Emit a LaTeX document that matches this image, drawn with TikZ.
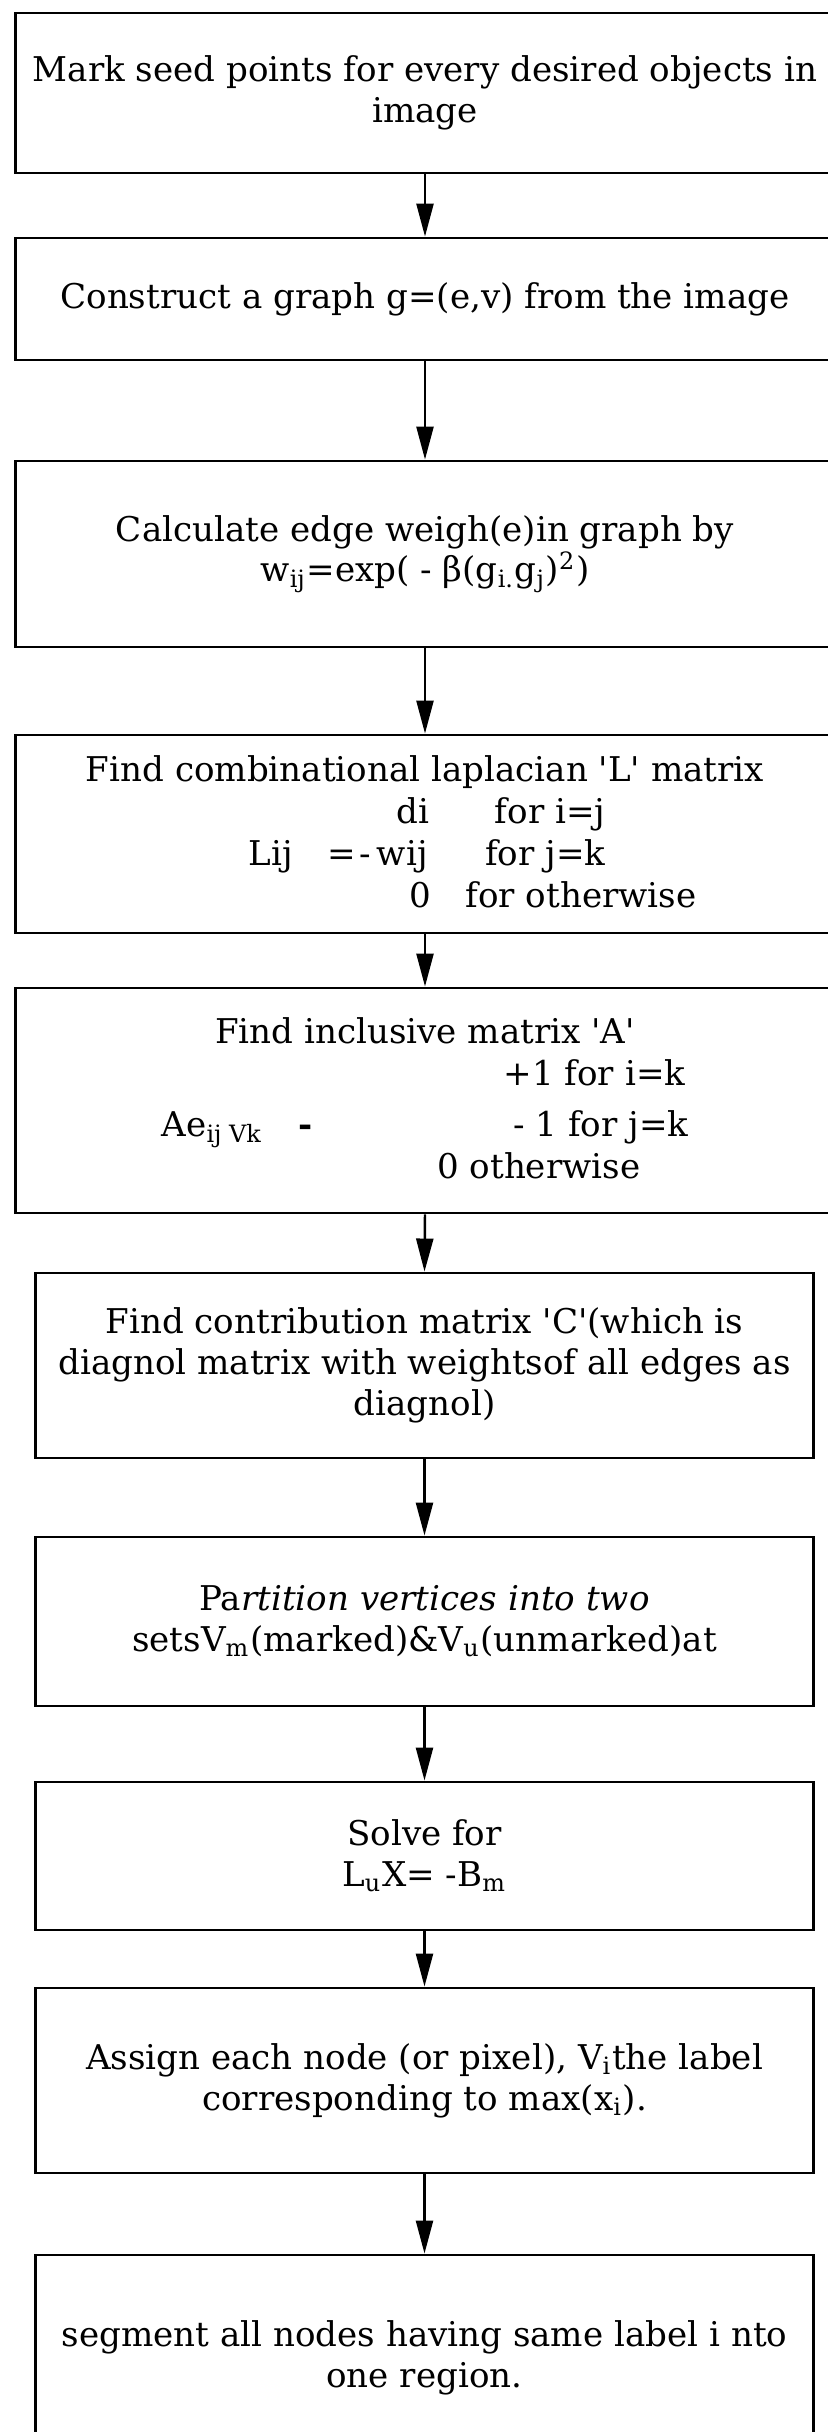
\documentclass[tikz,border=0pt]{standalone}
\usepackage{fontspec}
\setmainfont{DejaVu Serif}
\usetikzlibrary{arrows.meta}

\tikzset{
	stepbox/.style={draw, line width=0.8pt, align=center, inner sep=0pt},
	widebox/.style={stepbox, minimum width=8.18cm},
	narrowbox/.style={stepbox, minimum width=7.77cm},
	flow/.style={line width=0.7pt, -{Triangle[width=0.17cm,length=0.33cm]}},
	piece/.style={anchor=base west, inner sep=0pt},
	endpiece/.style={anchor=base east, inner sep=0pt},
	midpiece/.style={anchor=base, inner sep=0pt}
}

\begin{document}
\begin{tikzpicture}[x=0.01cm, y=-0.01cm, font=\fontsize{9.7}{11.6}\selectfont]
	\clip (0,0) rectangle (828,2432);
	
	\node[widebox, minimum height=1.60cm] (b1) at (425,93) {Mark seed points for every desired objects in\\image};
	\node[widebox, minimum height=1.22cm] (b2) at (425,299) {Construct a graph g=(e,v) from the image};
	\node[widebox, minimum height=1.86cm] (b3) at (425,554) {Calculate edge weigh(e)in graph by\\w\textsubscript{ij}=exp( - β(g\textsubscript{i.}g\textsubscript{j})\textsuperscript{2})};
	\node[widebox, minimum height=1.98cm] (b4) at (425,834) {};
	\node[widebox, minimum height=2.25cm] (b5) at (425,1100.5) {};
	\node[narrowbox, minimum height=1.85cm] (b6) at (424.5,1365.5) {Find contribution matrix \textquotesingle C\textquotesingle(which is\\diagnol matrix with weightsof all edges as\\diagnol)};
	\node[narrowbox, minimum height=1.69cm] (b7) at (424.5,1621.5) {Pa\textit{rtition vertices into two}\\setsV\textsubscript{m}(marked)\&V\textsubscript{u}(unmarked)at};
	\node[narrowbox, minimum height=1.48cm] (b8) at (424.5,1856) {Solve for\\L\textsubscript{u}X= -B\textsubscript{m}};
	\node[narrowbox, minimum height=1.85cm] (b9) at (424.5,2080.5) {Assign each node (or pixel), V\textsubscript{i}the label\\corresponding to max(x\textsubscript{i}).};
	\node[narrowbox, minimum height=2.05cm] (b10) at (424.5,2357.5) {segment all nodes having same label i nto\\one region.};
	
	% laplacian lines
	\node[midpiece] (b4a) at (425,781) {Find combinational laplacian \textquotesingle L\textquotesingle\ matrix};
	\node[piece] (b4b) at (396,823) {di};
	\node[endpiece] (b4c) at (606,823) {for i=j};
	\node[piece] (b4d) at (248,865) {Lij};
	\node[piece] (b4e) at (327,865) {=};
	\node[piece] (b4f) at (359,865) {-\,wij};
	\node[endpiece] (b4g) at (606,865) {for j=k};
	\node[piece] (b4h) at (409,907) {0};
	\node[piece] (b4i) at (465,907) {for otherwise};
	
	% inclusive matrix lines
	\node[midpiece] (b5a) at (425,1043) {Find inclusive matrix \textquotesingle A\textquotesingle};
	\node[endpiece] (b5b) at (686,1085) {+1 for i=k};
	\node[piece] (b5c) at (161,1136) {Ae\textsubscript{ij Vk}};
	\node[piece] (b5d) at (298,1136) {\textbf{-}};
	\node[endpiece] (b5e) at (689,1136) {- 1 for j=k};
	\node[endpiece] (b5f) at (641,1178) {0 otherwise};
	
	\draw[flow] (b1.south) -- (b2.north);
	\draw[flow] (b2.south) -- (b3.north);
	\draw[flow] (b3.south) -- (b4.north);
	\draw[flow] (b4.south) -- (b5.north);
	\draw[flow] (b5.south) -- (b6.north);
	\draw[flow] (b6.south) -- (b7.north);
	\draw[flow] (b7.south) -- (b8.north);
	\draw[flow] (b8.south) -- (b9.north);
	\draw[flow] (b9.south) -- (b10.north);
\end{tikzpicture}
\end{document}
